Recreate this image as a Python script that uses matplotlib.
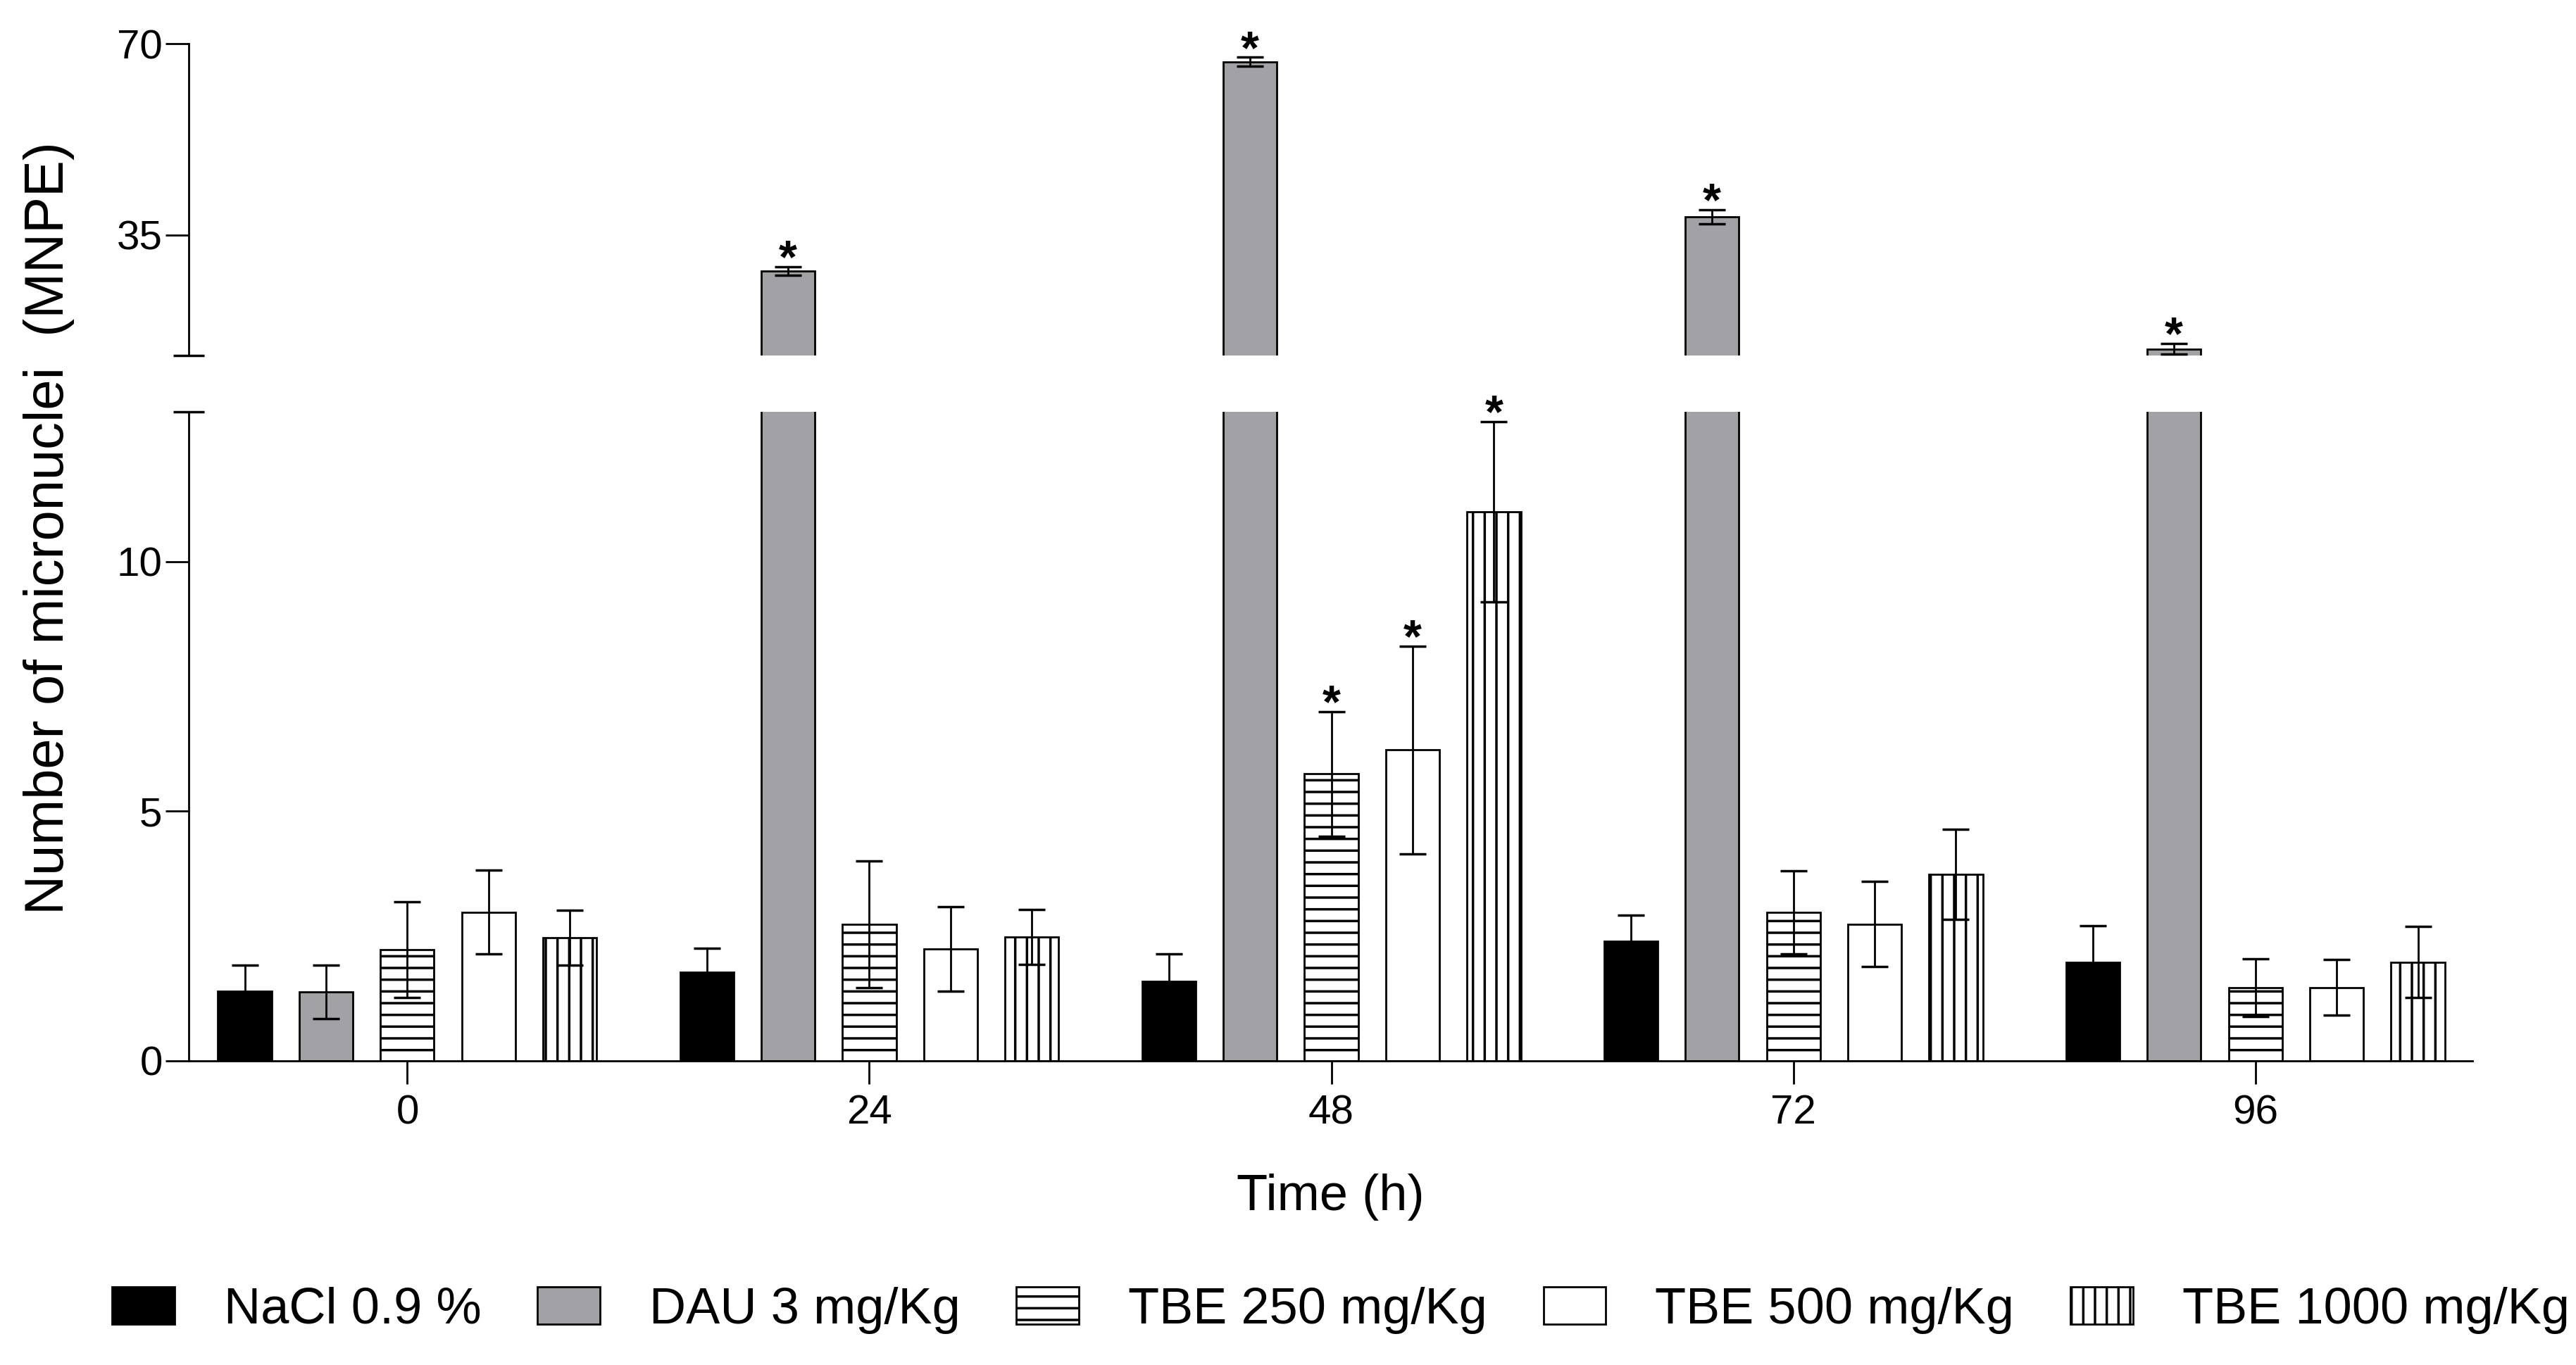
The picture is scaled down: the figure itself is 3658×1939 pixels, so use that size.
import numpy as np
import matplotlib
matplotlib.use("Agg")
import matplotlib.pyplot as plt

plt.rcParams['font.family'] = ['Liberation Sans', 'DejaVu Sans']
plt.rcParams['hatch.linewidth'] = 2.5
plt.rcParams['hatch.color'] = 'black'

# ---- data ----
time_labels = ['0', '24', '48', '72', '96']
series_names = ['NaCl 0.9 %', 'DAU 3 mg/Kg', 'TBE 250 mg/Kg', 'TBE 500 mg/Kg', 'TBE 1000 mg/Kg']

nacl = [1.39, 1.78, 1.59, 2.39, 1.98]
nacl_err = [0.53, 0.47, 0.55, 0.53, 0.72]
dau = [1.38, 28.4, 66.7, 38.3, 14.2]
dau_err = [0.54, 0.8, 0.8, 1.3, 1.0]
tbe250 = [2.23, 2.74, 5.75, 2.98, 1.47]
tbe250_err = [0.96, 1.27, 1.25, 0.83, 0.58]
tbe500 = [2.98, 2.24, 6.23, 2.74, 1.47]
tbe500_err = [0.84, 0.85, 2.08, 0.85, 0.56]
tbe1000 = [2.47, 2.48, 11.0, 3.74, 1.98]
tbe1000_err = [0.55, 0.55, 1.8, 0.9, 0.71]

nacl_sig = [False, False, False, False, False]
dau_sig = [False, True, True, True, True]
tbe250_sig = [False, False, True, False, False]
tbe500_sig = [False, False, True, False, False]
tbe1000_sig = [False, False, True, False, False]

means = [nacl, dau, tbe250, tbe500, tbe1000]
errs = [nacl_err, dau_err, tbe250_err, tbe500_err, tbe1000_err]
sigs = [nacl_sig, dau_sig, tbe250_sig, tbe500_sig, tbe1000_sig]

# ---- styles ----
faces = ['black', '#a2a2a6', 'white', 'white', 'white']
hatches = [None, None, '-', None, '|']

break_val = 13
lo_top = 13
hi_top = 70

fig = plt.figure(figsize=(36.58, 19.39), dpi=100)
ax_lo = fig.add_axes([0.0733, 0.2228, 0.8865, 0.4755])
ax_hi = fig.add_axes([0.0733, 0.7396, 0.8865, 0.2284], sharex=ax_lo)

x = np.arange(len(time_labels))
pitch = 0.176
width = 0.116
handles = []
for k in range(5):
    xs = x + (k - 2) * pitch
    m_arr = np.asarray(means[k], dtype=float)
    e_arr = np.asarray(errs[k], dtype=float)
    # lower segment
    b = ax_lo.bar(xs, m_arr, width=width, color=faces[k], edgecolor='black',
                  linewidth=2.0, hatch=hatches[k], label=series_names[k], zorder=2)
    handles.append(b)
    lo_mask = m_arr <= break_val
    if lo_mask.any():
        ax_lo.errorbar(xs[lo_mask], m_arr[lo_mask], yerr=e_arr[lo_mask], fmt='none',
                       ecolor='black', elinewidth=2.0, capsize=14, capthick=2.5, zorder=3)
    # upper segment (only bars that exceed the break)
    hi_mask = m_arr > break_val
    if hi_mask.any():
        ax_hi.bar(xs[hi_mask], m_arr[hi_mask], width=width, color=faces[k],
                  edgecolor='black', linewidth=2.0, hatch=hatches[k], zorder=2)
        ax_hi.errorbar(xs[hi_mask], m_arr[hi_mask], yerr=e_arr[hi_mask], fmt='none',
                       ecolor='black', elinewidth=2.0, capsize=14, capthick=2.5, zorder=3)
    for xi, m, e, s in zip(xs, m_arr, e_arr, sigs[k]):
        if s:
            top = m + e
            ax = ax_hi if m > break_val else ax_lo
            ax.annotate('*', xy=(xi, top), xytext=(0, -6), textcoords='offset points',
                        ha='center', va='baseline', fontsize=48, fontweight='bold',
                        annotation_clip=False)

ax_lo.set_xlim(-0.473, 4.47)
ax_lo.set_ylim(0, lo_top)
ax_hi.set_ylim(break_val, hi_top)

ax_lo.set_yticks([0, 5, 10])
ax_hi.set_yticks([35, 70])
ax_lo.set_yticks([lo_top], minor=True)
ax_hi.set_yticks([break_val], minor=True)

ax_lo.set_xticks(x)
ax_lo.set_xticklabels(time_labels)

for ax in (ax_lo, ax_hi):
    ax.spines['top'].set_visible(False)
    ax.spines['right'].set_visible(False)
    ax.spines['left'].set_linewidth(2.0)
    ax.spines['bottom'].set_linewidth(2.0)
    ax.tick_params(axis='y', which='major', direction='out', length=24, width=2.0,
                   labelsize=42, pad=3)
    ax.tick_params(axis='y', which='minor', direction='inout', length=32, width=2.5)
    ax.tick_params(axis='x', direction='out', length=24, width=2.0, labelsize=42, pad=10)

ax_hi.spines['bottom'].set_visible(False)
ax_hi.tick_params(axis='x', bottom=False, labelbottom=False)

ax_lo.set_xlabel('Time (h)', fontsize=52, labelpad=42)
fig.text(0.019, 0.613, 'Number of micronuclei  (MNPE)', rotation=90,
         ha='center', va='center', fontsize=56)

fig.legend(handles, series_names, loc='center', bbox_to_anchor=(0.5205, 0.040), ncol=5,
           frameon=False, fontsize=52, handlelength=1.23, handleheight=0.75,
           handletextpad=0.97, columnspacing=1.1)

fig.savefig('out.png', dpi=100, facecolor='white')
